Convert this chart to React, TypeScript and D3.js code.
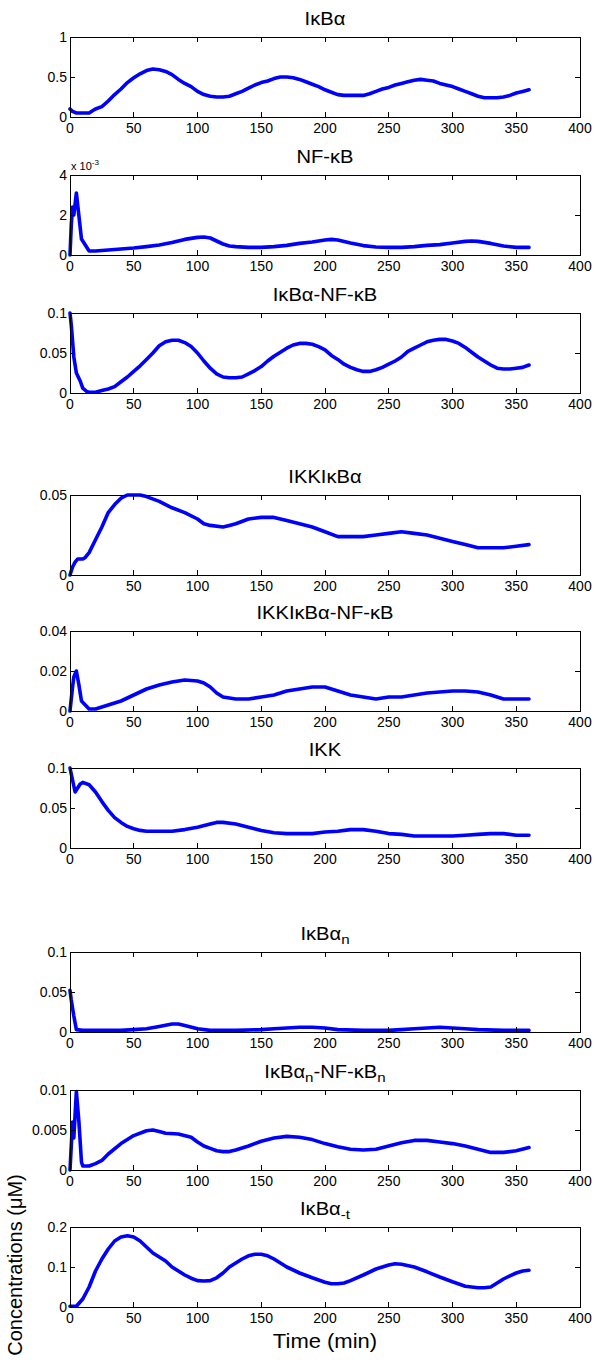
import React from "react";
import * as d3 from "d3";

// ---------- data (time in min, concentrations in µM) ----------
const xTicks = [0, 50, 100, 150, 200, 250, 300, 350, 400];

const tIkba = [0, 2, 5, 10, 15, 18, 20, 25, 30, 35, 40, 45, 50, 55, 60, 65, 70, 75, 80, 85, 90, 95, 100, 105, 110, 115, 120, 125, 130, 135, 140, 145, 150, 155, 160, 165, 170, 175, 180, 185, 190, 195, 200, 205, 210, 215, 220, 225, 230, 235, 240, 245, 250, 255, 260, 265, 270, 275, 280, 285, 290, 295, 300, 305, 310, 315, 320, 325, 330, 335, 340, 345, 350, 355, 360];
const vIkba = [0.1, 0.07, 0.05, 0.05, 0.05, 0.08, 0.1, 0.13, 0.2, 0.28, 0.35, 0.43, 0.49, 0.54, 0.58, 0.6, 0.59, 0.57, 0.53, 0.47, 0.42, 0.38, 0.32, 0.28, 0.26, 0.25, 0.25, 0.26, 0.29, 0.32, 0.36, 0.4, 0.43, 0.45, 0.48, 0.5, 0.5, 0.49, 0.47, 0.44, 0.41, 0.38, 0.34, 0.31, 0.28, 0.27, 0.27, 0.27, 0.27, 0.29, 0.32, 0.35, 0.37, 0.4, 0.42, 0.44, 0.46, 0.47, 0.46, 0.45, 0.42, 0.4, 0.38, 0.35, 0.32, 0.29, 0.26, 0.24, 0.24, 0.24, 0.25, 0.27, 0.3, 0.32, 0.34];

// NF-kB values in units of 1e-3 µM
const tNfkb = [0, 1, 2, 3, 5, 9, 15, 20, 30, 40, 50, 60, 70, 80, 90, 100, 105, 110, 115, 120, 125, 130, 140, 150, 160, 170, 180, 190, 200, 205, 210, 220, 230, 240, 250, 260, 270, 280, 290, 300, 310, 315, 320, 330, 340, 350, 360];
const vNfkb = [0, 1.5, 2.4, 2.0, 3.1, 0.8, 0.2, 0.2, 0.25, 0.3, 0.35, 0.42, 0.5, 0.62, 0.78, 0.88, 0.9, 0.85, 0.7, 0.55, 0.45, 0.42, 0.38, 0.38, 0.42, 0.48, 0.58, 0.65, 0.75, 0.78, 0.75, 0.6, 0.47, 0.4, 0.38, 0.38, 0.42, 0.48, 0.52, 0.6, 0.68, 0.7, 0.68, 0.58, 0.45, 0.38, 0.38];

const tComplex = [0, 1, 2, 3, 5, 8, 10, 13, 15, 20, 25, 30, 35, 40, 45, 50, 55, 60, 65, 70, 75, 80, 85, 90, 95, 100, 105, 110, 115, 120, 125, 130, 135, 140, 145, 150, 155, 160, 165, 170, 175, 180, 185, 190, 195, 200, 205, 210, 215, 220, 225, 230, 235, 240, 245, 250, 255, 260, 265, 270, 275, 280, 285, 290, 295, 300, 305, 310, 315, 320, 325, 330, 335, 340, 345, 350, 355, 360];
const vComplex = [0.1, 0.085, 0.065, 0.045, 0.025, 0.015, 0.006, 0.002, 0.001, 0.001, 0.003, 0.005, 0.008, 0.014, 0.02, 0.027, 0.034, 0.042, 0.05, 0.059, 0.064, 0.066, 0.066, 0.063, 0.058, 0.05, 0.04, 0.031, 0.024, 0.02, 0.019, 0.019, 0.02, 0.024, 0.028, 0.033, 0.04, 0.046, 0.051, 0.056, 0.06, 0.062, 0.062, 0.061, 0.058, 0.054, 0.047, 0.042, 0.036, 0.032, 0.029, 0.027, 0.027, 0.029, 0.032, 0.036, 0.04, 0.045, 0.052, 0.056, 0.06, 0.064, 0.066, 0.067, 0.067, 0.065, 0.062, 0.057, 0.051, 0.045, 0.04, 0.035, 0.031, 0.03, 0.03, 0.031, 0.032, 0.035];

const tIkkIkba = [0, 2, 4, 6, 10, 12, 15, 20, 25, 30, 35, 40, 45, 50, 55, 60, 70, 80, 90, 100, 105, 110, 120, 125, 130, 140, 150, 160, 170, 180, 190, 200, 210, 220, 230, 240, 250, 260, 270, 280, 290, 300, 310, 320, 330, 340, 350, 360];
const vIkkIkba = [0, 0.005, 0.008, 0.01, 0.01, 0.011, 0.014, 0.022, 0.03, 0.039, 0.044, 0.048, 0.05, 0.05, 0.05, 0.049, 0.046, 0.042, 0.039, 0.035, 0.032, 0.031, 0.03, 0.031, 0.032, 0.035, 0.036, 0.036, 0.034, 0.032, 0.03, 0.027, 0.024, 0.024, 0.024, 0.025, 0.026, 0.027, 0.026, 0.025, 0.023, 0.021, 0.019, 0.017, 0.017, 0.017, 0.018, 0.019];

const tIkkTri = [0, 2, 3, 5, 7, 9, 12, 15, 20, 25, 30, 40, 50, 60, 70, 80, 90, 100, 105, 110, 115, 120, 130, 140, 150, 160, 170, 180, 190, 200, 210, 220, 230, 240, 250, 260, 270, 280, 290, 300, 310, 320, 330, 340, 350, 360];
const vIkkTri = [0, 0.012, 0.017, 0.02, 0.013, 0.005, 0.003, 0.001, 0.001, 0.002, 0.003, 0.005, 0.008, 0.011, 0.013, 0.0145, 0.0155, 0.015, 0.014, 0.012, 0.009, 0.007, 0.006, 0.006, 0.007, 0.008, 0.01, 0.011, 0.012, 0.012, 0.01, 0.008, 0.007, 0.006, 0.007, 0.007, 0.008, 0.009, 0.0095, 0.01, 0.01, 0.0095, 0.008, 0.006, 0.006, 0.006];

const tIkk = [0, 2, 4, 6, 8, 10, 15, 20, 25, 30, 35, 40, 45, 50, 55, 60, 70, 80, 90, 100, 110, 115, 120, 130, 140, 150, 160, 170, 180, 190, 200, 210, 220, 230, 240, 250, 260, 270, 280, 290, 300, 310, 320, 330, 340, 350, 360];
const vIkk = [0.1, 0.085, 0.07, 0.075, 0.08, 0.082, 0.079, 0.07, 0.058, 0.047, 0.038, 0.032, 0.027, 0.024, 0.022, 0.021, 0.021, 0.021, 0.023, 0.026, 0.03, 0.032, 0.032, 0.03, 0.026, 0.022, 0.019, 0.018, 0.018, 0.018, 0.02, 0.021, 0.023, 0.023, 0.021, 0.018, 0.017, 0.015, 0.015, 0.015, 0.015, 0.016, 0.017, 0.018, 0.018, 0.016, 0.016];

const tIkbaN = [0, 1, 3, 5, 10, 20, 40, 50, 60, 70, 80, 85, 90, 100, 110, 130, 150, 160, 170, 180, 190, 200, 210, 230, 250, 260, 270, 280, 290, 300, 310, 320, 340, 360];
const vIkbaN = [0.052, 0.04, 0.02, 0.003, 0.002, 0.002, 0.002, 0.003, 0.004, 0.007, 0.01, 0.01, 0.008, 0.004, 0.002, 0.002, 0.003, 0.004, 0.005, 0.006, 0.006, 0.005, 0.003, 0.002, 0.002, 0.003, 0.004, 0.005, 0.006, 0.005, 0.004, 0.003, 0.002, 0.002];

const tComplexN = [0, 2, 3, 5, 7, 9, 10, 15, 20, 25, 30, 40, 50, 60, 65, 70, 75, 85, 95, 100, 105, 110, 115, 120, 125, 130, 140, 150, 160, 170, 180, 190, 200, 210, 220, 230, 240, 250, 260, 270, 280, 290, 300, 310, 320, 330, 340, 350, 360];
const vComplexN = [0, 0.006, 0.004, 0.0098, 0.006, 0.001, 0.0005, 0.0005, 0.0008, 0.0012, 0.002, 0.0033, 0.0043, 0.0049, 0.005, 0.0048, 0.0046, 0.0045, 0.0041, 0.0035, 0.003, 0.0027, 0.0024, 0.0023, 0.0023, 0.0025, 0.003, 0.0036, 0.004, 0.0042, 0.0041, 0.0038, 0.0033, 0.0029, 0.0026, 0.0025, 0.0026, 0.003, 0.0034, 0.0037, 0.0037, 0.0035, 0.0033, 0.003, 0.0026, 0.0022, 0.0022, 0.0024, 0.0028];

const tIkbaT = [0, 5, 10, 15, 20, 25, 30, 35, 40, 45, 50, 55, 60, 65, 70, 75, 80, 85, 90, 95, 100, 105, 110, 115, 120, 125, 130, 135, 140, 145, 150, 155, 160, 165, 170, 180, 190, 200, 205, 210, 215, 220, 230, 240, 250, 255, 260, 270, 280, 290, 300, 310, 320, 325, 330, 335, 340, 345, 350, 355, 360];
const vIkbaT = [0.002, 0.002, 0.02, 0.05, 0.09, 0.12, 0.145, 0.165, 0.175, 0.178, 0.175, 0.165, 0.15, 0.135, 0.125, 0.115, 0.1, 0.09, 0.08, 0.072, 0.066, 0.065, 0.066, 0.073, 0.085, 0.1, 0.11, 0.12, 0.128, 0.132, 0.132, 0.128, 0.12, 0.11, 0.1, 0.085, 0.073, 0.062, 0.058, 0.058, 0.06, 0.066, 0.08, 0.095, 0.105, 0.108, 0.107, 0.1, 0.088, 0.075, 0.063, 0.052, 0.048, 0.048, 0.05, 0.06, 0.07, 0.078, 0.085, 0.09, 0.092];

// titles: segments, sub = subscript
const titles = [
  [{ t: "IκBα" }],
  [{ t: "NF-κB" }],
  [{ t: "IκBα-NF-κB" }],
  [{ t: "IKKIκBα" }],
  [{ t: "IKKIκBα-NF-κB" }],
  [{ t: "IKK" }],
  [{ t: "IκBα" }, { t: "n", sub: true }],
  [{ t: "IκBα" }, { t: "n", sub: true }, { t: "-NF-κB" }, { t: "n", sub: true }],
  [{ t: "IκBα" }, { t: "-t", sub: true }],
];
const yMax = [1, 4, 0.1, 0.05, 0.04, 0.1, 0.1, 0.01, 0.2];
const yTicks = [
  [0, 0.5, 1],
  [0, 2, 4],
  [0, 0.05, 0.1],
  [0, 0.05],
  [0, 0.02, 0.04],
  [0, 0.05, 0.1],
  [0, 0.05, 0.1],
  [0, 0.005, 0.01],
  [0, 0.1, 0.2],
];
const series = [
  [tIkba, vIkba],
  [tNfkb, vNfkb],
  [tComplex, vComplex],
  [tIkkIkba, vIkkIkba],
  [tIkkTri, vIkkTri],
  [tIkk, vIkk],
  [tIkbaN, vIkbaN],
  [tComplexN, vComplexN],
  [tIkbaT, vIkbaT],
];

// ---------- layout ----------
const W = 601, H = 1361;
const X0 = 70, X1 = 580;
const tops = [37, 175, 313, 495, 631, 768, 952, 1090, 1227];
const PH = 80;
const FONT = "'Liberation Sans', Arial, Helvetica, sans-serif";
const TICK_FS = 14;
const TITLE_FS = 18;
const TITLE_SX = 1.12;
const TICKLEN = 5;

function Panel({ i }: { i: number }) {
  const top = tops[i];
  const bottom = top + PH;
  const x = d3.scaleLinear().domain([0, 400]).range([X0, X1]);
  const y = d3.scaleLinear().domain([0, yMax[i]]).range([bottom, top]);
  const [ts, vs] = series[i];
  const pts: [number, number][] = ts.map((t, k) => [t, vs[k]]);
  const line = d3.line<[number, number]>().x((d) => x(d[0])).y((d) => y(d[1]));
  const fmt = (v: number) => (v === 0 ? "0" : String(v));
  return (
    <g>
      <path d={line(pts) || ""} fill="none" stroke="#0000ff" strokeWidth={3.6} strokeLinejoin="round" strokeLinecap="round" />
      <rect x={X0} y={top} width={X1 - X0} height={PH} fill="none" stroke="#000" strokeWidth={1} shapeRendering="crispEdges" />
      {xTicks.map((t) => (
        <g key={"x" + t}>
          <line x1={x(t)} x2={x(t)} y1={bottom} y2={bottom - TICKLEN} stroke="#000" shapeRendering="crispEdges" />
          <line x1={x(t)} x2={x(t)} y1={top} y2={top + TICKLEN} stroke="#000" shapeRendering="crispEdges" />
          <text x={x(t)} y={bottom + 16} textAnchor="middle" fontSize={TICK_FS} fontFamily={FONT} fill="#000">{t}</text>
        </g>
      ))}
      {yTicks[i].map((v) => (
        <g key={"y" + v}>
          <line x1={X0} x2={X0 + TICKLEN} y1={y(v)} y2={y(v)} stroke="#000" shapeRendering="crispEdges" />
          <line x1={X1} x2={X1 - TICKLEN} y1={y(v)} y2={y(v)} stroke="#000" shapeRendering="crispEdges" />
          <text x={X0 - 3} y={y(v) + 5} textAnchor="end" fontSize={TICK_FS} fontFamily={FONT} fill="#000">{fmt(v)}</text>
        </g>
      ))}
      <text transform={`translate(${(X0 + X1) / 2}, ${top - 12}) scale(${TITLE_SX}, 1)`} textAnchor="middle" fontSize={TITLE_FS} fontFamily={FONT} fill="#000">
        {titles[i].map((s, k) =>
          s.sub ? (
            <tspan key={k} dy={4} fontSize={TITLE_FS * 0.75}>{s.t}</tspan>
          ) : (
            <tspan key={k} dy={k > 0 && titles[i][k - 1].sub ? -4 : 0}>{s.t}</tspan>
          )
        )}
      </text>
      {i === 1 && (
        <text x={X0 + 1} y={top - 5} fontSize={11} fontFamily={FONT} fill="#000">
          x 10<tspan dy={-5} fontSize={8}>-3</tspan>
        </text>
      )}
    </g>
  );
}

export default function App() {
  return (
    <svg width={W} height={H} style={{ position: "absolute", left: 0, top: 0, background: "#fff" }}>
      <rect x={0} y={0} width={W} height={H} fill="#fff" />
      {tops.map((_, i) => (
        <Panel key={i} i={i} />
      ))}
      <text transform={`translate(${(X0 + X1) / 2}, 1348) scale(1.1, 1)`} textAnchor="middle" fontSize={20} fontFamily={FONT} fill="#000">Time (min)</text>
      <text transform={`translate(22, ${tops[8] + PH / 2 - 2}) rotate(-90)`} textAnchor="middle" fontSize={20} fontFamily={FONT} fill="#000">Concentrations (μM)</text>
    </svg>
  );
}
